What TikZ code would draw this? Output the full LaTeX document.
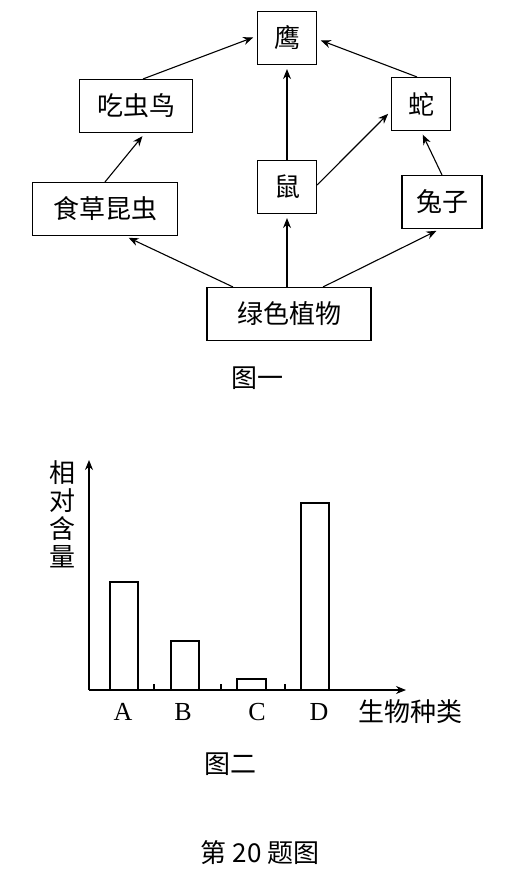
\documentclass[tikz,border=0pt]{standalone}
\usepackage{fontspec}
\setmainfont{Liberation Serif}
\newfontfamily\cjk{Noto Sans CJK SC}
\usetikzlibrary{positioning}
\usetikzlibrary{arrows.meta}
\usetikzlibrary{calc}

\tikzset{
  box/.style={draw, line width=1.1pt, minimum height=53pt, inner sep=0pt, font=\cjk\fontsize{26}{30}\selectfont},
  feed/.style={-{Stealth[length=10pt,width=8pt]}, line width=1.1pt, shorten >=4pt},
  figcap/.style={font=\cjk\fontsize{26}{30}\selectfont},
  letter/.style={font=\fontsize{26}{30}\selectfont},
}

\begin{document}
\begin{tikzpicture}[x=1pt,y=-1pt]
  \useasboundingbox (0,0) rectangle (511,871);

  % food web
  \node[box, minimum width=59pt] (ying) at (287,38) {鹰};
  \node[box, minimum width=113pt] (niao) at (136,106) {吃虫鸟};
  \node[box, minimum width=59pt] (she) at (421,104) {蛇};
  \node[box, minimum width=59pt] (shu) at (287,187) {鼠};
  \node[box, minimum width=145pt] (kunchong) at (105,209) {食草昆虫};
  \node[box, minimum width=80pt] (tuzi) at (442,202) {兔子};
  \node[box, minimum width=164pt] (zhiwu) at (289,314) {绿色植物};
  \node[figcap] (tu1) at (257,378) {图一};

  \draw[feed] ($(niao.north)+(7,0)$) -- ($(ying.west)+(0,-2)$);
  \draw[feed] ($(she.north)+(-4,0)$) -- ($(ying.east)+(0,1)$);
  \draw[feed] (shu.north) -- (ying.south);
  \draw[feed] ($(shu.east)+(0,-2)$) -- ($(she.west)+(0,7)$);
  \draw[feed] (tuzi.north) -- (she.south);
  \draw[feed] (kunchong.north) -- ($(niao.south)+(9,0)$);
  \draw[feed] ($(zhiwu.north)+(-56,0)$) -- ($(kunchong.south)+(20,0)$);
  \draw[feed] (zhiwu.north -| shu) -- (shu.south);
  \draw[feed] ($(zhiwu.north)+(34,0)$) -- ($(tuzi.south)+(-2,0)$);

  % bar chart
  \coordinate (o) at (89,690);
  \coordinate (xend) at (406,690);
  \coordinate (yend) at (89,460);
  \draw[-{Stealth[length=10pt,width=8pt]}, line width=1.1pt] (o) -- (xend);
  \draw[-{Stealth[length=10pt,width=8pt]}, line width=1.1pt] (o) -- (yend);
  \foreach \x in {154,221,285}
    \draw[line width=1.1pt] (\x,690) -- (\x,684);
  \draw[line width=1.1pt] (110,690) rectangle (138,582);
  \draw[line width=1.1pt] (171,690) rectangle (199,641);
  \draw[line width=1.1pt] (237,690) rectangle (266,679);
  \draw[line width=1.1pt] (301,690) rectangle (329,503);

  \node[letter] (la) at (123,712) {A};
  \node[letter] (lb) at (183,712) {B};
  \node[letter] (lc) at (257,712) {C};
  \node[letter] (ld) at (319,712) {D};
  \node[figcap] (xlab) at (410,712) {生物种类};
  \node[align=center, font=\cjk\fontsize{26}{28}\selectfont] (ylab) at (62,514) {相\\对\\含\\量};
  \node[figcap] (tu2) at (230,764) {图二};
  \node[figcap] (title) at (260,853) {第 20 题图};
\end{tikzpicture}
\end{document}
